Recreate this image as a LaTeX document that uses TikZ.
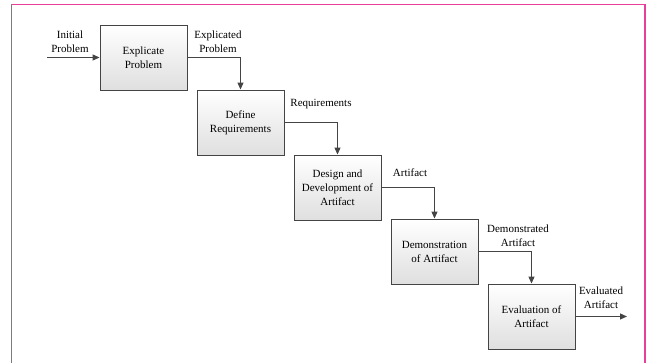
\documentclass[tikz,border=0pt]{standalone}
\usepackage{fontspec}
\setmainfont{Liberation Serif}
\usetikzlibrary{arrows.meta,shadows}
\definecolor{frame}{HTML}{E8409A}
\definecolor{edge}{HTML}{444444}
\tikzset{
  stage/.style={draw=edge, line width=0.9pt, minimum width=87pt, minimum height=65pt,
    top color=white, bottom color=gray!25, align=center, inner sep=2pt,
    font=\fontsize{11}{14}\selectfont,
    drop shadow={shadow xshift=1pt, shadow yshift=-1pt, opacity=0.25}},
  flow/.style={draw=edge, line width=1.1pt, -{Triangle[length=7pt,width=6pt]}},
  lbl/.style={align=center, inner sep=0pt, font=\fontsize{11}{14}\selectfont}
}
\begin{document}
\begin{tikzpicture}[x=1pt,y=-1pt]
\useasboundingbox (0,0) rectangle (649,363);
\clip (0,0) rectangle (649,363);
\draw[frame, line width=1.4pt] (11.5,4.5) rectangle (645,380);
\node[stage] (b1) at (143.5,57.5) {Explicate\\Problem};
\node[stage] (b2) at (240.5,122.5) {Define\\Requirements};
\node[stage] (b3) at (337.5,187.5) {Design and\\Development of\\Artifact};
\node[stage] (b4) at (434.5,251.5) {Demonstration\\of Artifact};
\node[stage] (b5) at (531.5,316.5) {Evaluation of\\Artifact};
\coordinate (in) at (47,57.5);
\coordinate (out) at (627,316.5);
\draw[flow] (in) -- (b1.west);
\draw[flow] (b1.east) -| (b2.north);
\draw[flow] (b2.east) -| (b3.north);
\draw[flow] (b3.east) -| (b4.north);
\draw[flow] (b4.east) -| (b5.north);
\draw[flow] (b5.east) -- (out);
\node[lbl] (l0) at (70,41.5) {Initial\\Problem};
\node[lbl] (l1) at (218,41.5) {Explicated\\Problem};
\node[lbl] (l2) at (321,104) {Requirements};
\node[lbl] (l3) at (410,173) {Artifact};
\node[lbl] (l4) at (518,236) {Demonstrated\\Artifact};
\node[lbl] (l5) at (601,298) {Evaluated\\Artifact};
\end{tikzpicture}
\end{document}
